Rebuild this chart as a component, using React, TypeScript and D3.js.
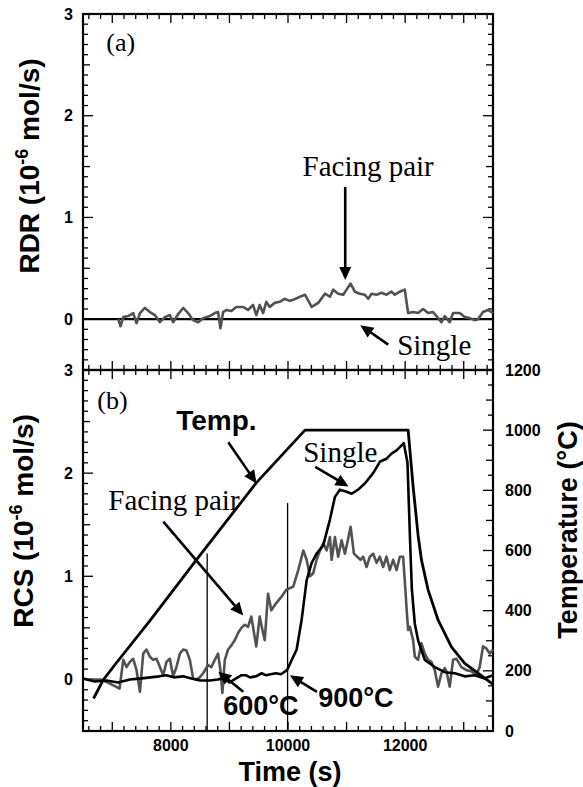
import React from 'react';
import * as d3 from 'd3';

// ---------- DATA ----------
const timeLabelTicks = [8000, 10000, 12000];
const rdrLabelTicks = [0, 1, 2, 3];
const rcsLabelTicks = [0, 1, 2, 3];
const tempLabelTicks = [0, 200, 400, 600, 800, 1000, 1200];

// (a) RDR, facing pair (gray)
const rdrFacingT = [7102, 7141, 7187, 7272, 7357, 7414, 7472, 7557, 7642, 7727, 7813, 7898, 7983, 8039, 8125, 8210, 8295, 8380, 8466, 8551, 8665, 8750, 8806, 8846, 8892, 8948, 9033, 9118, 9233, 9318, 9403, 9459, 9517, 9574, 9630, 9688, 9773, 9858, 9943, 10029, 10090, 10204, 10290, 10404, 10516, 10631, 10716, 10772, 10857, 10943, 11000, 11069, 11142, 11227, 11312, 11369, 11427, 11512, 11597, 11682, 11767, 11824, 11909, 11994, 12051, 12136, 12221, 12306, 12392, 12477, 12562, 12620, 12676, 12761, 12818, 12932, 13017, 13102, 13188, 13244, 13329, 13415, 13500];
const rdrFacingV = [0.0, -0.07, 0.02, 0.03, 0.06, -0.04, 0.06, 0.11, 0.07, 0.04, -0.03, 0.02, 0.04, -0.03, 0.05, 0.11, 0.06, -0.01, -0.03, 0.01, 0.03, 0.06, 0.07, -0.09, 0.07, 0.09, 0.08, 0.12, 0.12, 0.09, 0.14, 0.04, 0.14, 0.06, 0.17, 0.12, 0.16, 0.17, 0.2, 0.18, 0.19, 0.22, 0.24, 0.12, 0.16, 0.25, 0.22, 0.29, 0.25, 0.24, 0.29, 0.35, 0.27, 0.25, 0.24, 0.2, 0.25, 0.24, 0.26, 0.24, 0.27, 0.24, 0.27, 0.29, 0.06, 0.07, 0.06, 0.1, 0.06, 0.07, 0.01, -0.03, 0.03, -0.03, 0.06, 0.06, 0.02, 0.01, -0.01, 0.0, 0.07, 0.09, 0.06];
// (a) RDR, single (black)
const rdrSingleT = [6500, 13500];
const rdrSingleV = [0, 0];

// (b) RCS, facing pair (gray)
const rcsFacingT = [6550, 6795, 6960, 7124, 7187, 7243, 7301, 7357, 7414, 7472, 7528, 7584, 7642, 7698, 7755, 7813, 7869, 7925, 7983, 8039, 8096, 8154, 8210, 8266, 8324, 8380, 8437, 8494, 8551, 8636, 8692, 8750, 8806, 8846, 8880, 8921, 8977, 9033, 9091, 9147, 9204, 9262, 9318, 9374, 9432, 9459, 9517, 9574, 9603, 9659, 9715, 9800, 9886, 9971, 10090, 10175, 10261, 10318, 10375, 10431, 10489, 10545, 10602, 10659, 10716, 10745, 10801, 10857, 10915, 10971, 11022, 11069, 11125, 11181, 11239, 11283, 11341, 11398, 11454, 11512, 11568, 11624, 11682, 11738, 11795, 11853, 11909, 11965, 11994, 12023, 12051, 12080, 12136, 12165, 12221, 12279, 12335, 12392, 12449, 12506, 12562, 12620, 12676, 12705, 12761, 12818, 12876, 12961, 13046, 13131, 13216, 13273, 13329, 13387, 13443, 13500];
const rcsFacingV = [0.0, 0.0, -0.04, -0.09, 0.19, 0.12, 0.17, 0.2, 0.09, -0.12, 0.25, 0.29, 0.22, 0.19, 0.2, 0.12, 0.04, 0.17, 0.2, 0.03, 0.12, 0.25, 0.29, 0.28, 0.19, 0.01, 0.0, 0.02, 0.06, 0.14, 0.12, 0.19, 0.25, 0.09, -0.13, 0.19, 0.29, 0.33, 0.38, 0.45, 0.5, 0.53, 0.51, 0.61, 0.41, 0.32, 0.61, 0.45, 0.38, 0.83, 0.67, 0.74, 0.8, 0.87, 0.9, 1.06, 1.25, 1.16, 1.0, 1.03, 1.16, 1.25, 1.32, 1.25, 1.38, 1.16, 1.38, 1.19, 1.35, 1.22, 1.35, 1.48, 1.22, 1.19, 1.16, 1.19, 1.09, 1.19, 1.22, 1.13, 1.19, 1.09, 1.19, 1.06, 1.16, 1.06, 1.19, 1.19, 0.96, 0.7, 0.48, 0.51, 0.38, 0.22, 0.19, 0.35, 0.25, 0.19, 0.17, 0.09, -0.07, 0.06, 0.11, 0.08, -0.07, 0.19, 0.2, 0.12, 0.09, 0.08, 0.04, 0.12, 0.32, 0.3, 0.25, 0.29];

// (b) RCS, single (black)
const rcsSingleT = [6500, 6700, 6900, 7100, 7300, 7500, 7650, 7800, 7920, 8050, 8210, 8350, 8500, 8670, 8800, 8892, 9000, 9113, 9200, 9284, 9350, 9454, 9550, 9625, 9700, 9795, 9880, 9983, 10148, 10233, 10318, 10404, 10489, 10601, 10716, 10801, 10886, 11000, 11086, 11198, 11312, 11454, 11568, 11682, 11767, 11853, 11977, 12040, 12090, 12115, 12165, 12221, 12335, 12506, 12676, 12847, 13017, 13188, 13358, 13500];
const rcsSingleV = [0.01, -0.02, -0.01, -0.03, 0.0, 0.01, 0.02, 0.03, 0.04, 0.02, 0.03, 0.01, -0.01, -0.01, 0.0, 0.01, -0.03, 0.01, 0.04, 0.04, 0.02, 0.03, 0.06, 0.04, 0.05, 0.06, 0.05, 0.09, 0.29, 0.58, 0.96, 1.13, 1.22, 1.3, 1.55, 1.77, 1.84, 1.82, 1.8, 1.84, 1.9, 2.0, 2.11, 2.14, 2.19, 2.22, 2.29, 2.1, 1.25, 0.87, 0.54, 0.38, 0.19, 0.12, 0.07, 0.06, 0.03, 0.04, 0.01, 0.04];

// (b) Temperature (°C)
const tempT = [6680, 6846, 7068, 7647, 8466, 9454, 10290, 12051, 12136, 12221, 12279, 12392, 12562, 12790, 13017, 13244, 13472, 13500];
const tempV = [108, 170, 226, 368, 576, 824, 1000, 1000, 813, 650, 568, 469, 369, 280, 225, 192, 159, 155];

// marker times (600 °C and 900 °C)
const markerT = [8620, 9993];
const markerTopV = [1.22, 1.71];

// ---------- LAYOUT ----------
const W = 583, H = 787;
const L = 83, R = 493;
const topY0 = 14, midY = 370, botY1 = 731;

const SANS = 'Liberation Sans, Arial, sans-serif';
const SERIF = 'Liberation Serif, Times New Roman, serif';
const GRAY = '#525252';

function Arrow({ x1, y1, x2, y2, head = 13, hw = 6, sw = 2.6 }) {
  const dx = x2 - x1, dy = y2 - y1;
  const len = Math.hypot(dx, dy);
  const ux = dx / len, uy = dy / len;
  const bx = x2 - ux * head, by = y2 - uy * head;
  const px = -uy * hw, py = ux * hw;
  return (
    <g>
      <line x1={x1} y1={y1} x2={bx + ux * 2} y2={by + uy * 2} stroke="#000" strokeWidth={sw} />
      <path d={`M${x2},${y2}L${bx + px},${by + py}L${bx - px},${by - py}Z`} fill="#000" />
    </g>
  );
}

export default function App() {
  const x = d3.scaleLinear().domain([6500, 13500]).range([L, R]);
  const yTop = d3.scaleLinear().domain([-0.5, 3]).range([midY, topY0]);
  const yBot = d3.scaleLinear().domain([-0.5, 3]).range([botY1, midY]);
  const yTemp = d3.scaleLinear().domain([0, 1200]).range([botY1, midY]);

  const mk = (ts, vs) => ts.map((t, i) => [t, vs[i]]);
  const lineTop = d3.line().x(d => x(d[0])).y(d => yTop(d[1]));
  const lineBot = d3.line().x(d => x(d[0])).y(d => yBot(d[1]));
  const lineTemp = d3.line().x(d => x(d[0])).y(d => yTemp(d[1]));

  const xMinor = d3.range(6600, 13500, 200);
  const yMinor = d3.range(-0.5, 3.001, 0.1).map(v => Math.round(v * 10) / 10);
  const tMinor = d3.range(0, 1201, 50);

  const xTickLen = (t) => (t % 1000 === 0 ? 9 : 5);
  const yTickLen = (v) => (Math.abs(v - Math.round(v)) < 1e-6 ? 10 : Math.abs(v * 2 - Math.round(v * 2)) < 1e-6 ? 7 : 5);
  const tTickLen = (v) => (v % 200 === 0 ? 10 : v % 100 === 0 ? 7 : 5);

  const tickStroke = { stroke: '#000', strokeWidth: 1.3 };

  return (
    <svg width={W} height={H} style={{ position: 'absolute', left: 0, top: 0, background: '#fff' }}>
      <rect x={0} y={0} width={W} height={H} fill="#fff" />
      {/* ---------- ticks ---------- */}
      <g>
        {xMinor.map(t => (
          <g key={'xt' + t}>
            <line x1={x(t)} x2={x(t)} y1={topY0} y2={topY0 + xTickLen(t)} {...tickStroke} />
            <line x1={x(t)} x2={x(t)} y1={midY} y2={midY - xTickLen(t)} {...tickStroke} />
            <line x1={x(t)} x2={x(t)} y1={midY} y2={midY + xTickLen(t)} {...tickStroke} />
            <line x1={x(t)} x2={x(t)} y1={botY1} y2={botY1 - xTickLen(t)} {...tickStroke} />
          </g>
        ))}
        {yMinor.map(v => (
          <g key={'yt' + v}>
            <line x1={L} x2={L + yTickLen(v)} y1={yTop(v)} y2={yTop(v)} {...tickStroke} />
            <line x1={R} x2={R - yTickLen(v)} y1={yTop(v)} y2={yTop(v)} {...tickStroke} />
            <line x1={L} x2={L + yTickLen(v)} y1={yBot(v)} y2={yBot(v)} {...tickStroke} />
          </g>
        ))}
        {tMinor.map(v => (
          <line key={'tt' + v} x1={R} x2={R - tTickLen(v)} y1={yTemp(v)} y2={yTemp(v)} {...tickStroke} />
        ))}
      </g>

      {/* ---------- frames ---------- */}
      <rect x={L} y={topY0} width={R - L} height={midY - topY0} fill="none" stroke="#000" strokeWidth={2.2} />
      <rect x={L} y={midY} width={R - L} height={botY1 - midY} fill="none" stroke="#000" strokeWidth={2.2} />

      {/* ---------- tick labels ---------- */}
      <g fontFamily={SANS} fontWeight="bold" fontSize={16} fill="#000">
        {rdrLabelTicks.map(v => (
          <text key={'rl' + v} x={L - 10} y={yTop(v)} dy="0.35em" textAnchor="end">{v}</text>
        ))}
        {rcsLabelTicks.map(v => (
          <text key={'cl' + v} x={L - 10} y={yBot(v)} dy="0.35em" textAnchor="end">{v}</text>
        ))}
        {tempLabelTicks.map(v => (
          <text key={'tl' + v} x={R + 12} y={yTemp(v)} dy="0.35em" textAnchor="start">{v}</text>
        ))}
        {timeLabelTicks.map(t => (
          <text key={'xl' + t} x={x(t)} y={751} textAnchor="middle">{t}</text>
        ))}
      </g>

      {/* ---------- axis titles ---------- */}
      <g fontFamily={SANS} fontWeight="bold" fontSize={28} fill="#000">
        <text transform={`translate(39,166) rotate(-90)`} textAnchor="middle">
          RDR (10<tspan dy={-11} fontSize={18}>-6</tspan><tspan dy={11}> mol/s)</tspan>
        </text>
        <text transform={`translate(33,521) rotate(-90)`} textAnchor="middle">
          RCS (10<tspan dy={-11} fontSize={18}>-6</tspan><tspan dy={11}> mol/s)</tspan>
        </text>
        <text transform={`translate(577,530) rotate(-90)`} textAnchor="middle" fontSize={27}>Temperature (°C)</text>
        <text x={290} y={781} textAnchor="middle" fontSize={27}>Time (s)</text>
      </g>

      {/* ---------- panel (a) data ---------- */}
      <path d={lineTop(mk(rdrSingleT, rdrSingleV))} fill="none" stroke="#000" strokeWidth={2.2} />
      <path d={lineTop(mk(rdrFacingT, rdrFacingV))} fill="none" stroke={GRAY} strokeWidth={2.6} strokeLinejoin="round" />

      {/* ---------- panel (b) data ---------- */}
      {markerT.map((t, i) => (
        <line key={'mk' + t} x1={x(t)} x2={x(t)} y1={yBot(markerTopV[i])} y2={botY1} stroke="#000" strokeWidth={1.3} />
      ))}
      <path d={lineBot(mk(rcsFacingT, rcsFacingV))} fill="none" stroke={GRAY} strokeWidth={2.6} strokeLinejoin="round" />
      <path d={lineBot(mk(rcsSingleT, rcsSingleV))} fill="none" stroke="#000" strokeWidth={2.6} strokeLinejoin="round" />
      <path d={lineTemp(mk(tempT, tempV))} fill="none" stroke="#000" strokeWidth={2.8} strokeLinejoin="round" />

      {/* ---------- annotations (a) ---------- */}
      <g fontFamily={SERIF} fontSize={29} fill="#000">
        <text x={x(6898)} y={yTop(2.64)} fontSize={26}>(a)</text>
        <text x={x(10248)} y={yTop(1.41)}>Facing pair</text>
        <text x={x(11864)} y={yTop(-0.35)}>Single</text>
      </g>
      <Arrow x1={x(10977)} y1={yTop(1.30)} x2={x(10977)} y2={yTop(0.384)} />
      <Arrow x1={x(11712)} y1={yTop(-0.25)} x2={x(11234)} y2={yTop(-0.06)} />

      {/* ---------- annotations (b) ---------- */}
      <g fontFamily={SERIF} fontSize={29} fill="#000">
        <text x={x(6744)} y={yBot(2.62)} fontSize={26}>(b)</text>
        <text x={x(6932)} y={yBot(1.64)}>Facing pair</text>
        <text x={x(10260)} y={yBot(2.11)}>Single</text>
      </g>
      <g fontFamily={SANS} fontWeight="bold" fontSize={28} fill="#000">
        <text x={x(8092)} y={yBot(2.42)}>Temp.</text>
        <text x={x(8894)} y={yBot(-0.345)} fontSize={27}>600°C</text>
        <text x={x(10516)} y={yBot(-0.27)} fontSize={27}>900°C</text>
      </g>
      <Arrow x1={x(8980)} y1={yBot(2.30)} x2={x(9463)} y2={yBot(1.90)} />
      <Arrow x1={x(7871)} y1={yBot(1.53)} x2={x(9236)} y2={yBot(0.62)} />
      <Arrow x1={x(10465)} y1={yBot(2.06)} x2={x(11034)} y2={yBot(1.87)} />
      <Arrow x1={x(9236)} y1={yBot(-0.12)} x2={x(8809)} y2={yBot(0.075)} />
      <Arrow x1={x(10494)} y1={yBot(-0.12)} x2={x(10033)} y2={yBot(0.04)} />
    </svg>
  );
}
